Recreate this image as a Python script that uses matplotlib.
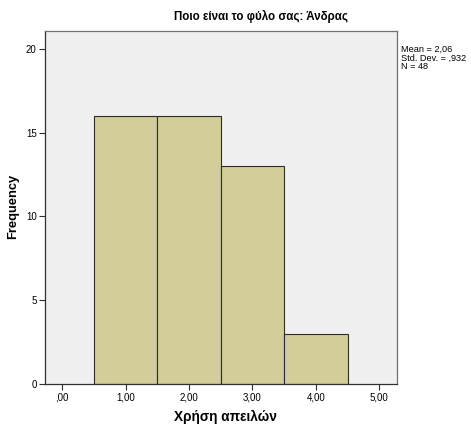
import matplotlib
matplotlib.use("Agg")
import matplotlib.pyplot as plt

plt.rcParams['font.family'] = ['Liberation Sans', 'DejaVu Sans']

categories = [1, 2, 3, 4]
frequencies = [16, 16, 13, 3]
xtick_vals = [0, 1, 2, 3, 4, 5]
xtick_labels = [",00", "1,00", "2,00", "3,00", "4,00", "5,00"]
ytick_vals = [0, 5, 10, 15, 20]
title = "Ποιο είναι το φύλο σας: Άνδρας"
xlabel = "Χρήση απειλών"
ylabel = "Frequency"
stats = "Mean = 2,06\nStd. Dev. = ,932\nN = 48"

fig = plt.figure(figsize=(4.71, 4.24), dpi=100)
ax = fig.add_axes([45/471, 1-384/424, (397-45)/471, (384-31)/424])
ax.set_facecolor('#F0F0F0')
ax.bar(categories, frequencies, width=1.0, color='#D3CE97', edgecolor='#2b2b2b', linewidth=0.8)
ax.set_xlim(-0.27, 5.28)
ax.set_ylim(0, 21.07)
ax.set_xticks(xtick_vals)
ax.set_xticklabels(xtick_labels, fontsize=7)
ax.set_yticks(ytick_vals)
ax.set_yticklabels([str(v) for v in ytick_vals], fontsize=7)
for s in ax.spines.values():
    s.set_color('#707070')
    s.set_linewidth(0.9)
ax.spines['left'].set_color('#303030')
ax.spines['bottom'].set_color('#303030')
ax.tick_params(axis='both', direction='out', length=4, width=0.8, color='#303030', pad=2)
fig.text(225/471, 1-417/424, xlabel, ha='center', va='center', fontsize=9.8, fontweight='bold')
fig.text(13/471, 1-206/424, ylabel, ha='center', va='center', rotation=90, fontsize=9.3, fontweight='bold')
fig.text(261/471, 1-16/424, title, ha='center', va='center', fontsize=8.3, fontweight='bold')
fig.text(401/471, 1-45/424, stats, ha='left', va='top', fontsize=6.6, linespacing=0.95)
fig.savefig('out.png', dpi=100, facecolor='white')
